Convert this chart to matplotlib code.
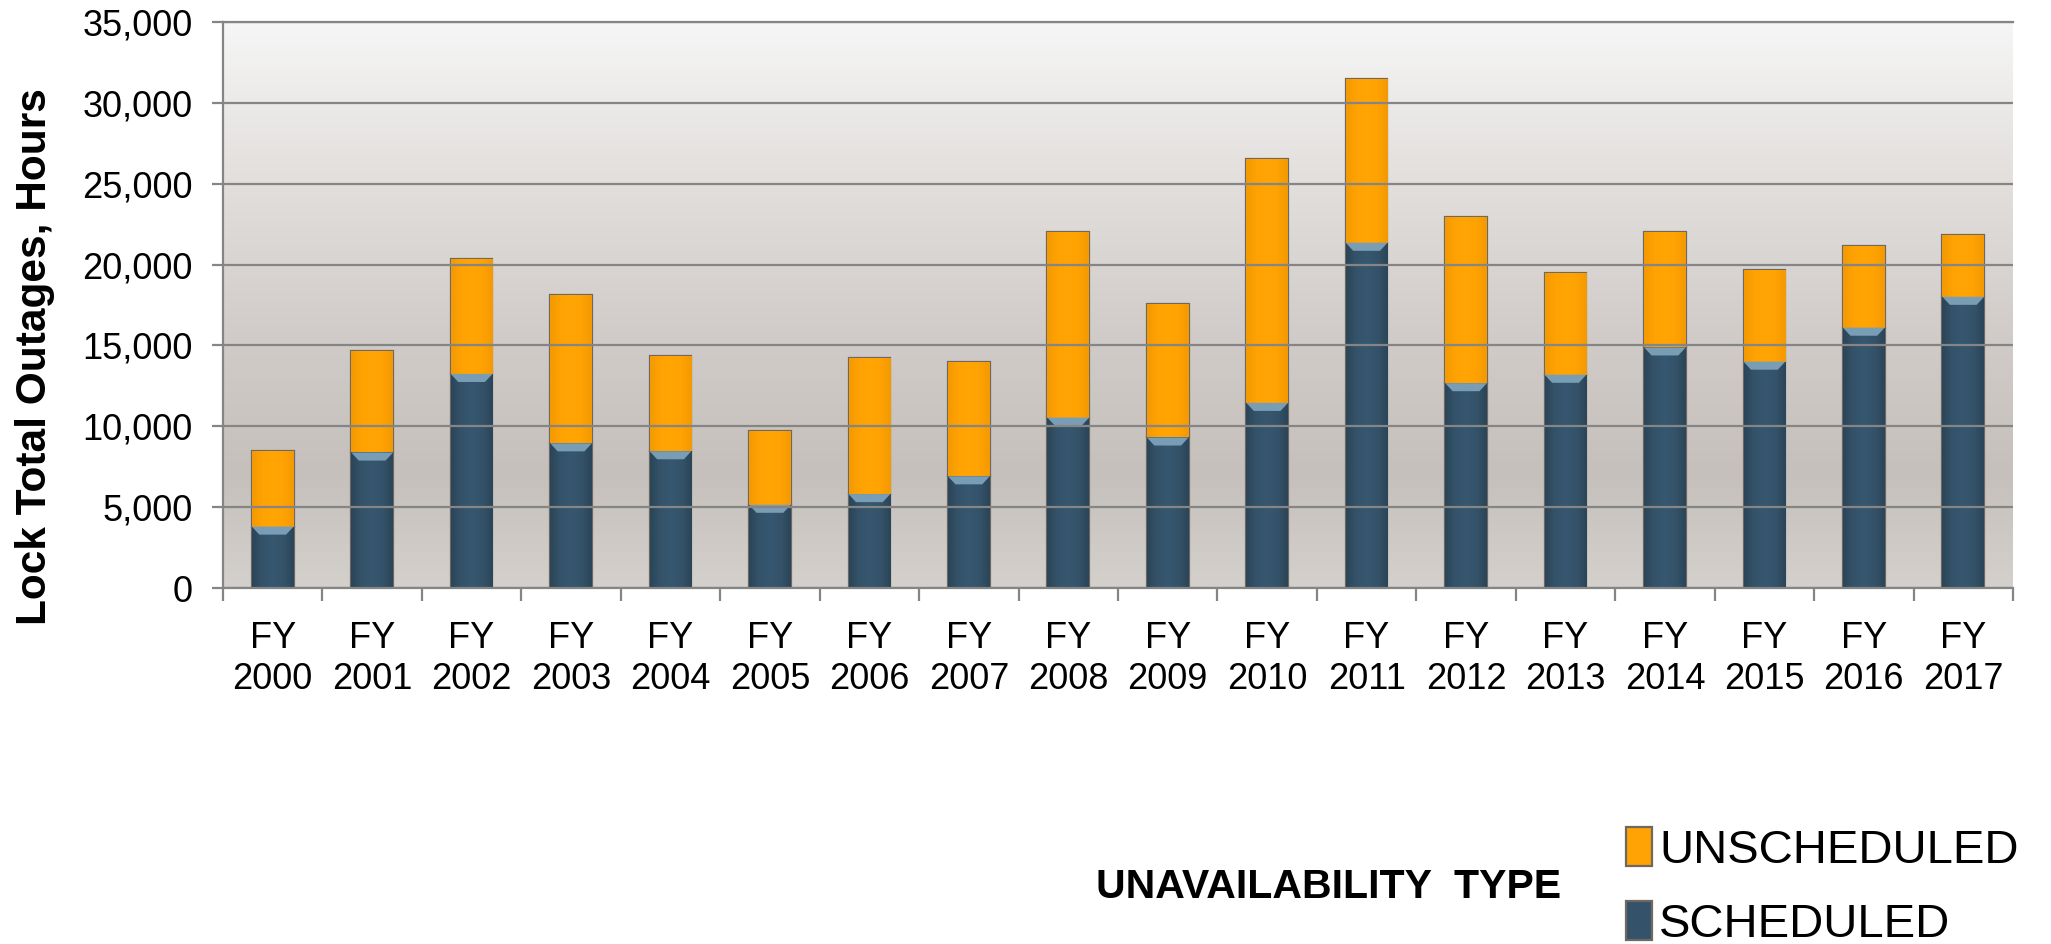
import numpy as np
import matplotlib
matplotlib.use("Agg")
import matplotlib.pyplot as plt
from matplotlib.colors import LinearSegmentedColormap
from matplotlib.patches import Polygon

# ---- data ----
years = ["FY\n2000", "FY\n2001", "FY\n2002", "FY\n2003", "FY\n2004", "FY\n2005",
         "FY\n2006", "FY\n2007", "FY\n2008", "FY\n2009", "FY\n2010", "FY\n2011",
         "FY\n2012", "FY\n2013", "FY\n2014", "FY\n2015", "FY\n2016", "FY\n2017"]
scheduled = [3800, 8380, 13240, 8950, 8460, 5150, 5810, 6910, 10540, 9310,
             11450, 21350, 12670, 13190, 14880, 14000, 16100, 18010]
unscheduled = [4700, 6280, 7130, 9160, 5900, 4530, 8410, 7060, 11460, 8260,
               15090, 10150, 10250, 6300, 7110, 5680, 5050, 3800]
yticks = [0, 5000, 10000, 15000, 20000, 25000, 30000, 35000]
series_labels = ["UNSCHEDULED", "SCHEDULED"]
legend_title = "UNAVAILABILITY  TYPE"
ylabel = "Lock Total Outages, Hours"

plt.rcParams['font.family'] = ['Liberation Sans', 'DejaVu Sans']

W, H, DPI = 2051, 944, 100
fig = plt.figure(figsize=(W / DPI, H / DPI), dpi=DPI)
ax = fig.add_axes([223 / W, 1 - 588 / H, (2013 - 223) / W, (588 - 22) / H])

x = np.arange(len(years))
bw = 0.42
edge = '#6f6862'
blue = '#34536a'
orange = '#ffa203'

sched_bars = ax.bar(x, scheduled, width=bw, color=blue, edgecolor=edge,
                    linewidth=1.6, zorder=2)
unsched_bars = ax.bar(x, unscheduled, width=bw, bottom=scheduled, color=orange,
                      edgecolor=edge, linewidth=1.6, zorder=2)

ax.set_xlim(-0.5, len(years) - 0.5)
ax.set_ylim(0, 35000)

# background gradient
bg_cmap = LinearSegmentedColormap.from_list(
    'bg', [(0.0, '#d4d0cc'), (0.2, '#c5c0bb'), (0.45, '#d1ccc9'),
           (0.75, '#e4e1df'), (1.0, '#f6f6f6')])
grad = np.linspace(0, 1, 256).reshape(-1, 1)
ax.imshow(grad, extent=[0, 1, 0, 1], transform=ax.transAxes, cmap=bg_cmap,
          origin='lower', aspect='auto', zorder=0)

# cylindrical shading on bars (clipped to each bar patch)
hgrad = np.abs(np.linspace(-1, 1, 64)).reshape(1, -1)
shade_blue = LinearSegmentedColormap.from_list('sb', ['#36576f', '#34536a', '#2b4558'])
shade_or = LinearSegmentedColormap.from_list('so', ['#ffa504', '#ffa203', '#f39a02'])
for bars, cm in ((sched_bars, shade_blue), (unsched_bars, shade_or)):
    for p in bars.patches:
        x0, y0, w, h = p.get_x(), p.get_y(), p.get_width(), p.get_height()
        im = ax.imshow(hgrad, extent=[x0, x0 + w, y0, y0 + h], cmap=cm,
                       aspect='auto', zorder=2.1, interpolation='bilinear')
        im.set_clip_path(p)

# bevel at top of scheduled bars
d = 500
for p in sched_bars.patches:
    x0, w, top = p.get_x(), p.get_width(), p.get_y() + p.get_height()
    poly = Polygon([(x0, top), (x0 + w, top), (x0 + w * 0.82, top - d),
                    (x0 + w * 0.18, top - d)], closed=True,
                   facecolor='#7a9db6', edgecolor='none', zorder=2.2)
    ax.add_patch(poly)
ax.set_xlim(-0.5, len(years) - 0.5)
ax.set_ylim(0, 35000)

# grid / spines
grid_c = '#858585'
ax.set_yticks(yticks)
ax.set_yticklabels([f"{v:,}" for v in yticks])
ax.yaxis.grid(True, color=grid_c, linewidth=1.6, zorder=1)
ax.set_axisbelow(False)
for gl in ax.get_ygridlines():
    gl.set_zorder(1)
ax.spines['right'].set_visible(False)
for s in ['left', 'bottom', 'top']:
    ax.spines[s].set_color(grid_c)
    ax.spines[s].set_linewidth(1.6)
    ax.spines[s].set_zorder(1.5)

ax.set_xticks(np.arange(len(years) + 1) - 0.5)
ax.set_xticklabels([])
ax.set_xticks(x, minor=True)
ax.set_xticklabels(years, minor=True)
ax.tick_params(axis='x', which='major', length=9, width=1.6, color=grid_c)
ax.tick_params(axis='x', which='minor', length=0, labelsize=26, pad=24)
ax.tick_params(axis='y', length=8, width=1.6, color=grid_c, labelsize=26, pad=14)

ax.set_ylabel(ylabel, fontsize=30.5, fontweight='bold', va='center')
ax.yaxis.set_label_coords((35 - 223) / (2013 - 223), (588 - 357) / (588 - 22))

# legend
leg = fig.legend([unsched_bars, sched_bars], series_labels, loc='center left',
                 bbox_to_anchor=(1626 / W, 1 - 887 / H), frameon=False,
                 fontsize=34, handlelength=0.55, handleheight=0.9,
                 handletextpad=0.15, labelspacing=0.6, borderpad=0,
                 borderaxespad=0)
fig.text(1096 / W, 1 - 887 / H, legend_title, fontsize=29.5, fontweight='bold',
         ha='left', va='center')

fig.savefig('out.png', dpi=DPI)
